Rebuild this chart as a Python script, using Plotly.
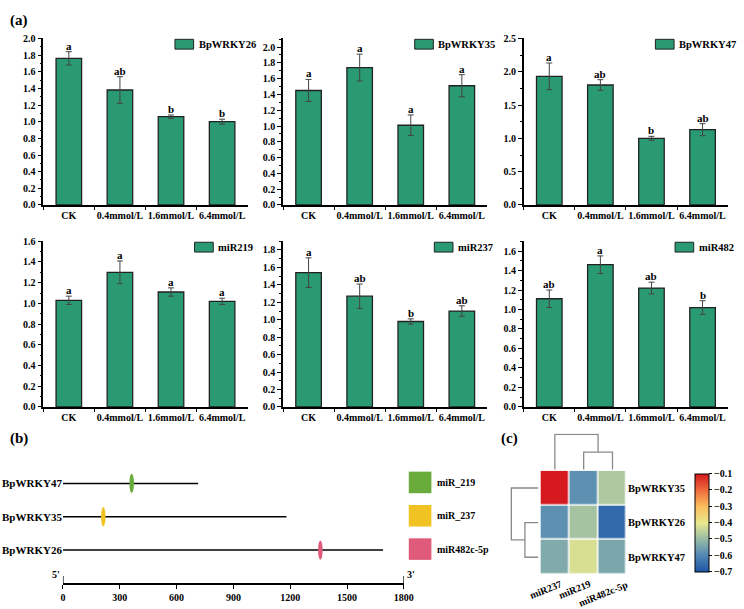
import plotly.graph_objects as go

# ---------------- data ----------------
categories = ["CK", "0.4mmol/L", "1.6mmol/L", "6.4mmol/L"]
panel_names = ["BpWRKY26", "BpWRKY35", "BpWRKY47", "miR219", "miR237", "miR482"]
means = [
    [1.76, 1.38, 1.06, 1.00],
    [1.45, 1.74, 1.01, 1.51],
    [1.93, 1.80, 1.00, 1.13],
    [1.03, 1.30, 1.11, 1.02],
    [1.54, 1.27, 0.98, 1.10],
    [1.11, 1.46, 1.22, 1.02],
]
errors = [
    [0.08, 0.16, 0.02, 0.03],
    [0.14, 0.17, 0.13, 0.14],
    [0.20, 0.08, 0.03, 0.09],
    [0.04, 0.11, 0.04, 0.03],
    [0.17, 0.14, 0.03, 0.06],
    [0.09, 0.09, 0.06, 0.07],
]
letters = [
    ["a", "ab", "b", "b"],
    ["a", "a", "a", "a"],
    ["a", "ab", "b", "ab"],
    ["a", "a", "a", "a"],
    ["a", "ab", "b", "ab"],
    ["ab", "a", "ab", "b"],
]
y_max = [2.0, 2.11, 2.5, 1.6, 1.9, 1.7]
y_dtick = [0.2, 0.2, 0.5, 0.2, 0.2, 0.2]

genes = ["BpWRKY47", "BpWRKY35", "BpWRKY26"]
gene_lengths = [714, 1180, 1690]
site_pos = [363, 213, 1359]
site_mirna = ["miR_219", "miR_237", "miR482c-5p"]
b_ticks = [0, 300, 600, 900, 1200, 1500, 1800]

hm_rows = ["BpWRKY35", "BpWRKY26", "BpWRKY47"]
hm_cols = ["miR237", "miR219", "miR482c-5p"]
hm_values = [
    [-0.10, -0.58, -0.47],
    [-0.58, -0.48, -0.66],
    [-0.53, -0.42, -0.54],
]
col_merges = [(1, 2, 0.5), (0, 3, 1.0)]
row_merges = [(1, 2, 0.5), (0, 3, 1.0)]

# ---------------- style ----------------
W, H = 744, 609
FONT = "'Liberation Serif', 'Times New Roman', Times, serif"
BAR_COLOR = "#2a9a72"
SITE_COLORS = ["#6aac3c", "#f0c222", "#e05a7c"]
HM_SCALE = [
    [0.0, "rgb(30,85,165)"],
    [1/6, "rgb(80,135,180)"],
    [2/6, "rgb(150,186,166)"],
    [3/6, "rgb(232,232,142)"],
    [4/6, "rgb(250,190,92)"],
    [5/6, "rgb(238,108,60)"],
    [1.0, "rgb(213,25,30)"],
]


def xd(a, b):
    return [a / W, b / W]


def yd(top, bottom):
    return [1 - bottom / H, 1 - top / H]


def bfont(size=10, color="black"):
    return dict(family=FONT, size=size, color=color, weight="bold")


fig = go.Figure()
layout = dict(
    width=W, height=H, margin=dict(l=0, r=0, t=0, b=0),
    paper_bgcolor="white", plot_bgcolor="white", showlegend=False,
    font=bfont(10),
)
shapes, annotations = [], []

xcols = [(41, 249), (285, 493), (530, 738)]
rows = [(33, 203), (240, 409)]
legend_offsets = [74, 74, 74, 54, 54, 54]

for i in range(6):
    r, c = divmod(i, 3)
    ax = "" if i == 0 else str(i + 1)
    fig.add_trace(go.Bar(
        x=categories, y=means[i], width=0.5,
        marker=dict(color=BAR_COLOR, line=dict(color="#222", width=1.3)),
        error_y=dict(type="data", array=errors[i], color="#444", thickness=1, width=3),
        xaxis="x" + ax, yaxis="y" + ax,
    ))
    layout["xaxis" + ax] = dict(
        domain=xd(*xcols[c]), anchor="y" + ax, type="category",
        range=[-0.5, 3.5], showline=True, linecolor="black", linewidth=1.5,
        ticks="outside", ticklen=3, tickcolor="black", tickson="boundaries",
        showgrid=False, tickfont=bfont(10), tickangle=0,
    )
    layout["yaxis" + ax] = dict(
        domain=yd(*rows[r]), anchor="x" + ax, range=[0, y_max[i]],
        dtick=y_dtick[i], tick0=0, tickformat=".1f",
        showline=True, linecolor="black", linewidth=1.5,
        ticks="outside", ticklen=4, tickcolor="black", showgrid=False,
        zeroline=False, tickfont=bfont(10),
        minor=dict(dtick=y_dtick[i] / 2, ticks="outside", ticklen=2, tickcolor="black"),
    )
    for j in range(4):
        annotations.append(dict(
            x=categories[j], y=means[i][j] + errors[i][j], xref="x" + ax, yref="y" + ax,
            text=letters[i][j], showarrow=False, yanchor="bottom", yshift=-2,
            font=bfont(11),
        ))
    # legend swatch
    right = xcols[c][1]
    top = rows[r][0]
    bx0 = right - legend_offsets[i]
    shapes.append(dict(type="rect", xref="paper", yref="paper",
                       x0=bx0 / W, x1=(bx0 + 19) / W, y0=1 - (top + 11) / H, y1=1 - (top + 1) / H,
                       fillcolor=BAR_COLOR, line=dict(color="#222", width=1)))
    annotations.append(dict(x=(bx0 + 22) / W, y=1 - (top + 6) / H, xref="paper", yref="paper",
                            text=panel_names[i], showarrow=False, xanchor="left", yanchor="middle",
                            font=bfont(10.5)))

# ---------------- panel (b) ----------------
gene_y = [3, 2, 1]
for g in range(3):
    fig.add_trace(go.Scatter(
        x=[0, gene_lengths[g]], y=[gene_y[g], gene_y[g]], mode="lines",
        line=dict(color="black", width=1.5), xaxis="x7", yaxis="y7", hoverinfo="skip",
    ))
    shapes.append(dict(type="circle", xref="x7", yref="y7",
                       x0=site_pos[g] - 12, x1=site_pos[g] + 12,
                       y0=gene_y[g] - 0.29, y1=gene_y[g] + 0.29,
                       fillcolor=SITE_COLORS[g], line=dict(width=0), layer="above"))
layout["xaxis7"] = dict(domain=xd(61, 408), anchor="y7", range=[0, 1800],
                        tickvals=b_ticks, showline=True, linecolor="black", linewidth=1.5,
                        ticks="outside", ticklen=4, tickcolor="black", showgrid=False,
                        zeroline=False, tickfont=bfont(10))
layout["yaxis7"] = dict(domain=yd(470, 589), anchor="x7", range=[0, 3.5],
                        tickvals=gene_y, ticktext=genes, showline=False, ticks="",
                        showgrid=False, zeroline=False, tickfont=bfont(11))
for xv in [0, 1800]:
    shapes.append(dict(type="line", xref="x7", yref="y7", x0=xv, x1=xv, y0=0, y1=0.22,
                       line=dict(color="black", width=1.3)))
annotations.append(dict(x=0, y=0.05, xref="x7", yref="y7", text="5'", showarrow=False,
                        xanchor="right", yanchor="bottom", xshift=-1, font=bfont(10)))
annotations.append(dict(x=1800, y=0.05, xref="x7", yref="y7", text="3'", showarrow=False,
                        xanchor="left", yanchor="bottom", xshift=1, font=bfont(10)))
leg_tops = [475, 509, 543]
for k in range(3):
    t = leg_tops[k]
    shapes.append(dict(type="rect", xref="paper", yref="paper",
                       x0=413 / W, x1=436 / W, y0=1 - (t + 22) / H, y1=1 - t / H,
                       fillcolor=SITE_COLORS[k], line=dict(width=0)))
    annotations.append(dict(x=440 / W, y=1 - (t + 11) / H, xref="paper", yref="paper",
                            text=site_mirna[k], showarrow=False, xanchor="left",
                            yanchor="middle", font=bfont(10)))

# ---------------- panel (c) ----------------
fig.add_trace(go.Heatmap(
    z=hm_values, x=[0, 1, 2], y=[0, 1, 2], xaxis="x8", yaxis="y8",
    colorscale=HM_SCALE, zmin=-0.7, zmax=-0.1, xgap=1.5, ygap=1.5,
    colorbar=dict(x=704 / W, xanchor="left", y=1 - 577 / H, yanchor="bottom",
                  len=100 / H, lenmode="fraction", thickness=14, thicknessmode="pixels",
                  outlinecolor="black", outlinewidth=1, xpad=0, ypad=0,
                  tickvals=[-0.7, -0.6, -0.5, -0.4, -0.3, -0.2, -0.1], tickformat=".1f",
                  ticks="outside", ticklen=3, tickcolor="black", tickfont=bfont(10)),
))
layout["xaxis8"] = dict(domain=xd(547, 635), anchor="y8", range=[-0.5, 2.5],
                        showticklabels=False, showline=False, ticks="", showgrid=False,
                        zeroline=False)
layout["yaxis8"] = dict(domain=yd(474, 580), anchor="x8", range=[2.5, -0.5], side="right",
                        tickvals=[0, 1, 2], ticktext=hm_rows, showline=False, ticks="",
                        showgrid=False, zeroline=False, tickfont=bfont(10.5))
for k in range(3):
    annotations.append(dict(x=k, y=2.5, xref="x8", yref="y8", text=hm_cols[k],
                            showarrow=False, textangle=-22, xanchor="center", yanchor="top",
                            xshift=-9, yshift=-1, font=bfont(10)))


def dendro_segments(merges, n):
    pos = {i: float(i) for i in range(n)}
    hgt = {i: 0.0 for i in range(n)}
    a_list, h_list = [], []
    nid = n
    for a, b, h in merges:
        a_list += [pos[a], pos[a], pos[b], pos[b], None]
        h_list += [hgt[a], h, h, hgt[b], None]
        pos[nid] = (pos[a] + pos[b]) / 2
        hgt[nid] = h
        nid += 1
    return a_list, h_list


cp, ch = dendro_segments(col_merges, 3)
fig.add_trace(go.Scatter(x=cp, y=ch, mode="lines", line=dict(color="#8a8a8a", width=1.3),
                         xaxis="x9", yaxis="y9", hoverinfo="skip"))
layout["xaxis9"] = dict(domain=xd(547, 635), anchor="y9", range=[-0.5, 2.5], visible=False)
layout["yaxis9"] = dict(domain=yd(436, 473), anchor="x9", range=[0, 1.03], visible=False)

rp, rh = dendro_segments(row_merges, 3)
fig.add_trace(go.Scatter(x=rh, y=rp, mode="lines", line=dict(color="#8a8a8a", width=1.3),
                         xaxis="x10", yaxis="y10", hoverinfo="skip"))
layout["xaxis10"] = dict(domain=xd(516, 545), anchor="y10", range=[1.05, 0], visible=False)
layout["yaxis10"] = dict(domain=yd(474, 580), anchor="x10", range=[2.5, -0.5], visible=False)

# panel labels
for txt, px, py in [("(a)", 5, 15), ("(b)", 5, 441), ("(c)", 505, 441)]:
    annotations.append(dict(x=px / W, y=1 - py / H, xref="paper", yref="paper", text=txt,
                            showarrow=False, xanchor="left", yanchor="middle", font=bfont(15)))

layout["shapes"] = shapes
layout["annotations"] = annotations
fig.update_layout(**layout)
fig.write_html("out.html")
